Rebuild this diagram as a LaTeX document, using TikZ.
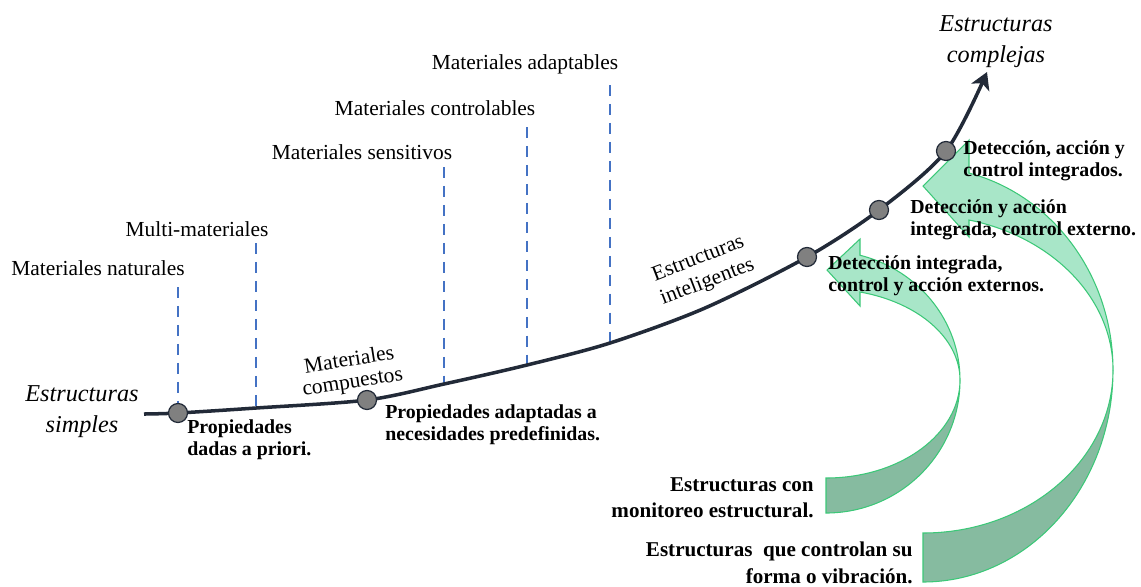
\documentclass[tikz,border=0pt]{standalone}
\usepackage{fontspec}
\setmainfont{Liberation Serif}
\usetikzlibrary{arrows.meta}
\definecolor{curvecol}{RGB}{34,42,56}
\definecolor{guideblue}{RGB}{68,114,196}
\definecolor{dotgray}{RGB}{128,128,128}
\definecolor{lightgreen}{RGB}{168,230,200}
\definecolor{darkgreen}{RGB}{134,187,160}
\definecolor{edgegreen}{RGB}{60,200,120}

\begin{document}
\begin{tikzpicture}[x=0.02cm, y=-0.02cm,
    guide/.style={guideblue, line width=1.5pt, dash pattern=on 6.5pt off 4.3pt},
    dot/.style={circle, draw=curvecol, line width=0.7pt, fill=dotgray, minimum size=0.38cm, inner sep=0pt},
    mat/.style={font=\fontsize{12.2}{12.5}\selectfont, inner sep=0pt},
    stage/.style={font=\fontsize{13.8}{17.6}\selectfont\itshape, align=center, inner sep=0pt},
    note/.style={font=\fontsize{11.3}{12.8}\selectfont\bfseries, align=left, inner sep=0pt, anchor=north west},
    kind/.style={font=\fontsize{12}{15}\selectfont\bfseries, align=right, inner sep=0pt, anchor=north east},
    fwd/.style={draw=edgegreen, line width=0.6pt, fill=lightgreen},
    back/.style={draw=edgegreen, line width=0.6pt, fill=darkgreen}]

    \useasboundingbox (0,0) rectangle (1141,586);

    % Green arrows
    \draw[back] (826,513) arc[start angle=90, end angle=0, x radius=134, y radius=133]
        arc[start angle=0, end angle=90, x radius=134, y radius=98] -- cycle;
    \draw[fwd] (960,380) arc[start angle=0, end angle=-75.3, x radius=134, y radius=129]
        -- (860,239) -- (827,270) -- (860,306) -- (860,292)
        arc[start angle=-75.3, end angle=0, x radius=134, y radius=91] -- cycle;
    \draw[back] (923,582) arc[start angle=90, end angle=0, x radius=190, y radius=212]
        arc[start angle=0, end angle=90, x radius=190, y radius=163] -- cycle;
    \draw[fwd] (1113,370) arc[start angle=0, end angle=-76, x radius=190, y radius=203]
        -- (969,140) -- (923,186) -- (969,237) -- (969,220)
        arc[start angle=-76, end angle=0, x radius=190, y radius=155] -- cycle;

    % Dashed guides
    \foreach \gx/\gt/\gb [count=\i] in {178/287/413, 256/243/408, 444/167/384, 527/127/365, 610/85/343} {
        \coordinate (top\i) at (\gx,\gt);
        \coordinate (foot\i) at (\gx,\gb);
        \draw[guide] (top\i) -- (foot\i);
    }

    % Curve
    \draw[curvecol, line width=2pt, -{Stealth[length=9.5pt, width=11pt, inset=2.5pt]}]
        plot[smooth] coordinates {(144,414) (178,413) (256,408) (367,400) (444,384) (527,365)
        (610,343) (705,308) (807,257) (879,210) (946,151) (987,72)};

    % Dots
    \node[dot] (simple) at (178,413) {};
    \node[dot] (compuesto) at (367,400) {};
    \node[dot] (monitor) at (807,257) {};
    \node[dot] (semi) at (879,210) {};
    \node[dot] (integra) at (946,151) {};

    % Labels
    \node[mat] (natural) at (98,268) {Materiales naturales};
    \node[mat] (multi) at (197,229) {Multi-materiales};
    \node[mat] (sensitivo) at (362,152) {Materiales sensitivos};
    \node[mat] (controlable) at (435,108) {Materiales controlables};
    \node[mat] (adaptable) at (525,64) {Materiales adaptables};
    \node[mat, align=center, rotate=9] (compuestos) at (351,372) {Materiales\\compuestos};
    \node[mat, align=center, rotate=21, font=\fontsize{12.2}{14.2}\selectfont] (inteligentes) at (703,271) {Estructuras\\inteligentes};
    \node[stage] (simples) at (82,412) {Estructuras\\simples};
    \node[stage] (complejas) at (996,42) {Estructuras\\complejas};

    \node[note] (priori) at (187,419) {Propiedades\\dadas a priori.};
    \node[note] (predef) at (385,404) {Propiedades adaptadas a\\necesidades predefinidas.};
    \node[note] (externos) at (828,255) {Detección integrada,\\control y acción externos.};
    \node[note] (externo) at (910,199) {Detección y acción\\integrada, control externo.};
    \node[note] (integrados) at (963,140) {Detección, acción y\\control integrados.};
    \node[kind] (monitoreo) at (814,477) {Estructuras con\\monitoreo estructural.};
    \node[kind] (vibracion) at (913,542) {Estructuras~ que controlan su\\forma o vibración.};
\end{tikzpicture}
\end{document}
